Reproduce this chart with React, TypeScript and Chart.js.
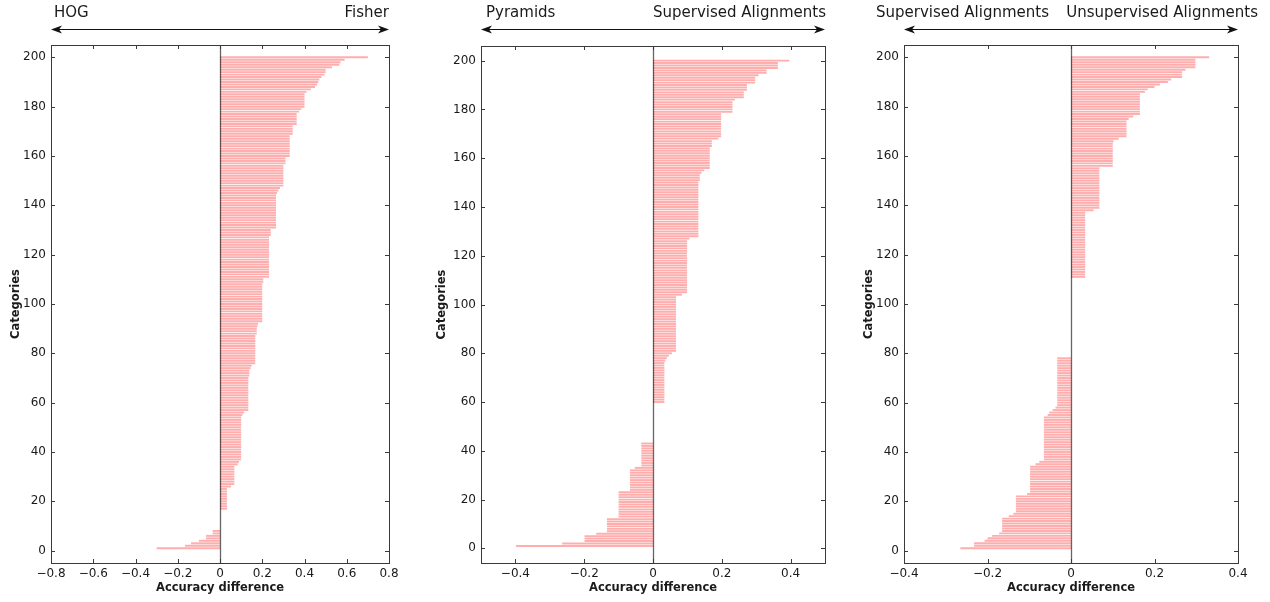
import React, { useEffect, useRef } from "react";
import { Chart, registerables } from "chart.js";

Chart.register(...registerables);

// category index (1..200), one bar per category
const categories: number[] = Array.from({ length: 200 }, (_, i) => i + 1);

const yTicks = [0, 20, 40, 60, 80, 100, 120, 140, 160, 180, 200];
const xTicksHog = [-0.8, -0.6, -0.4, -0.2, 0, 0.2, 0.4, 0.6, 0.8];
const xTicksPyr = [-0.4, -0.2, 0, 0.2, 0.4];
const xTicksSup = [-0.4, -0.2, 0, 0.2, 0.4];

// HOG vs Fisher (sorted accuracy differences)
const hogFisher = [
  -0.30, -0.166, -0.137, -0.10, -0.066, -0.066, -0.035, -0.035, 0, 0,
  0, 0, 0, 0, 0, 0, 0.033, 0.033, 0.033, 0.033,
  0.033, 0.033, 0.033, 0.033, 0.033, 0.052, 0.068, 0.068, 0.068, 0.068,
  0.068, 0.068, 0.068, 0.068, 0.084, 0.09, 0.10, 0.10, 0.10, 0.10,
  0.10, 0.10, 0.10, 0.10, 0.10, 0.10, 0.10, 0.10, 0.10, 0.10,
  0.10, 0.10, 0.10, 0.10, 0.106, 0.114, 0.134, 0.134, 0.134, 0.134,
  0.134, 0.134, 0.134, 0.134, 0.134, 0.134, 0.134, 0.134, 0.134, 0.134,
  0.139, 0.139, 0.139, 0.145, 0.15, 0.167, 0.167, 0.167, 0.167, 0.167,
  0.167, 0.167, 0.167, 0.167, 0.167, 0.167, 0.167, 0.174, 0.174, 0.174,
  0.177, 0.18, 0.20, 0.20, 0.20, 0.20, 0.20, 0.20, 0.20, 0.20,
  0.20, 0.20, 0.20, 0.20, 0.20, 0.20, 0.20, 0.20, 0.205, 0.205,
  0.232, 0.232, 0.232, 0.232, 0.232, 0.232, 0.232, 0.232, 0.232, 0.232,
  0.232, 0.232, 0.232, 0.232, 0.232, 0.232, 0.232, 0.24, 0.24, 0.24,
  0.265, 0.265, 0.265, 0.265, 0.265, 0.265, 0.265, 0.265, 0.265, 0.265,
  0.265, 0.265, 0.265, 0.265, 0.27, 0.276, 0.284, 0.30, 0.30, 0.30,
  0.30, 0.30, 0.30, 0.30, 0.30, 0.30, 0.31, 0.31, 0.31, 0.33,
  0.33, 0.33, 0.33, 0.33, 0.33, 0.33, 0.33, 0.33, 0.344, 0.344,
  0.344, 0.344, 0.363, 0.363, 0.363, 0.363, 0.363, 0.375, 0.385, 0.40,
  0.40, 0.40, 0.40, 0.40, 0.40, 0.41, 0.43, 0.45, 0.46, 0.465,
  0.47, 0.48, 0.495, 0.50, 0.50, 0.53, 0.565, 0.57, 0.59, 0.70,
];

// Pyramids vs Supervised Alignments
const pyrSup = [
  -0.398, -0.264, -0.199, -0.199, -0.199, -0.165, -0.134, -0.134, -0.134, -0.134,
  -0.134, -0.134, -0.10, -0.10, -0.10, -0.10, -0.10, -0.10, -0.10, -0.10,
  -0.10, -0.10, -0.10, -0.067, -0.067, -0.067, -0.067, -0.067, -0.067, -0.067,
  -0.067, -0.067, -0.053, -0.034, -0.034, -0.034, -0.034, -0.034, -0.034, -0.034,
  -0.034, -0.034, -0.034, 0, 0, 0, 0, 0, 0, 0,
  0, 0, 0, 0, 0, 0, 0, 0, 0, 0.033,
  0.033, 0.033, 0.033, 0.033, 0.033, 0.033, 0.033, 0.033, 0.033, 0.033,
  0.033, 0.033, 0.033, 0.033, 0.033, 0.033, 0.036, 0.04, 0.046, 0.055,
  0.067, 0.067, 0.067, 0.067, 0.067, 0.067, 0.067, 0.067, 0.067, 0.067,
  0.067, 0.067, 0.067, 0.067, 0.067, 0.067, 0.067, 0.067, 0.067, 0.067,
  0.067, 0.067, 0.067, 0.084, 0.099, 0.099, 0.099, 0.099, 0.099, 0.099,
  0.099, 0.099, 0.099, 0.099, 0.099, 0.099, 0.099, 0.099, 0.099, 0.099,
  0.099, 0.099, 0.099, 0.099, 0.099, 0.099, 0.106, 0.132, 0.132, 0.132,
  0.132, 0.132, 0.132, 0.132, 0.132, 0.132, 0.132, 0.132, 0.132, 0.132,
  0.132, 0.132, 0.132, 0.132, 0.132, 0.132, 0.132, 0.132, 0.132, 0.132,
  0.136, 0.136, 0.136, 0.141, 0.149, 0.165, 0.165, 0.165, 0.165, 0.165,
  0.165, 0.165, 0.165, 0.165, 0.171, 0.171, 0.171, 0.19, 0.198, 0.198,
  0.198, 0.198, 0.198, 0.198, 0.198, 0.198, 0.198, 0.198, 0.231, 0.231,
  0.231, 0.231, 0.231, 0.238, 0.264, 0.264, 0.264, 0.273, 0.273, 0.273,
  0.297, 0.297, 0.297, 0.307, 0.33, 0.33, 0.363, 0.363, 0.363, 0.396,
];

// Supervised vs Unsupervised Alignments
const supUnsup = [
  -0.265, -0.232, -0.232, -0.207, -0.20, -0.189, -0.172, -0.165, -0.165, -0.165,
  -0.165, -0.165, -0.165, -0.149, -0.138, -0.132, -0.132, -0.132, -0.132, -0.132,
  -0.132, -0.132, -0.105, -0.098, -0.098, -0.098, -0.098, -0.098, -0.098, -0.098,
  -0.098, -0.098, -0.098, -0.098, -0.085, -0.076, -0.065, -0.065, -0.065, -0.065,
  -0.065, -0.065, -0.065, -0.065, -0.065, -0.065, -0.065, -0.065, -0.065, -0.065,
  -0.065, -0.065, -0.065, -0.065, -0.056, -0.052, -0.044, -0.037, -0.033, -0.033,
  -0.033, -0.033, -0.033, -0.033, -0.033, -0.033, -0.033, -0.033, -0.033, -0.033,
  -0.033, -0.033, -0.033, -0.033, -0.033, -0.033, -0.033, -0.033, 0, 0,
  0, 0, 0, 0, 0, 0, 0, 0, 0, 0,
  0, 0, 0, 0, 0, 0, 0, 0, 0, 0,
  0, 0, 0, 0, 0, 0, 0, 0, 0, 0,
  0.034, 0.034, 0.034, 0.034, 0.034, 0.034, 0.034, 0.034, 0.034, 0.034,
  0.034, 0.034, 0.034, 0.034, 0.034, 0.034, 0.034, 0.034, 0.034, 0.034,
  0.034, 0.034, 0.034, 0.034, 0.034, 0.034, 0.034, 0.054, 0.068, 0.068,
  0.068, 0.068, 0.068, 0.068, 0.068, 0.068, 0.068, 0.068, 0.068, 0.068,
  0.068, 0.068, 0.068, 0.068, 0.068, 0.10, 0.10, 0.10, 0.10, 0.10,
  0.10, 0.10, 0.10, 0.10, 0.10, 0.102, 0.114, 0.133, 0.133, 0.133,
  0.133, 0.133, 0.133, 0.133, 0.138, 0.149, 0.165, 0.165, 0.165, 0.165,
  0.165, 0.165, 0.165, 0.165, 0.165, 0.177, 0.184, 0.20, 0.213, 0.232,
  0.24, 0.266, 0.266, 0.266, 0.274, 0.298, 0.298, 0.298, 0.298, 0.331,
];

const FONT = "'DejaVu Sans', 'Liberation Sans', sans-serif";
const TEXT = "#1a1a1a";
const FRAME = "#3a3a3a";
const H = 602;

type PanelCfg = {
  left: number;
  width: number;
  axisW: number;
  padRight: number;
  padTop: number;
  xMin: number;
  xMax: number;
  yMin: number;
  yMax: number;
  xTicks: number[];
  values: number[];
  leftLabel: string;
  rightLabel: string;
  leftLabelDx: number;
  rightLabelDx: number;
  catTitleDx: number;
};

const panels: PanelCfg[] = [
  {
    left: 0, width: 425, axisW: 51, padRight: 36, padTop: 45,
    xMin: -0.8, xMax: 0.8, yMin: -5, yMax: 205, xTicks: xTicksHog, values: hogFisher,
    leftLabel: "HOG", rightLabel: "Fisher", leftLabelDx: 3, rightLabelDx: 0, catTitleDx: -35,
  },
  {
    left: 425, width: 425, axisW: 56, padRight: 25, padTop: 46,
    xMin: -0.5, xMax: 0.5, yMin: -6, yMax: 206, xTicks: xTicksPyr, values: pyrSup,
    leftLabel: "Pyramids", rightLabel: "Supervised Alignments", leftLabelDx: 5, rightLabelDx: 1, catTitleDx: -39,
  },
  {
    left: 850, width: 420, axisW: 54, padRight: 32, padTop: 45,
    xMin: -0.4, xMax: 0.4, yMin: -5, yMax: 205, xTicks: xTicksSup, values: supUnsup,
    leftLabel: "Supervised Alignments", rightLabel: "Unsupervised Alignments", leftLabelDx: -28, rightLabelDx: 20, catTitleDx: -35,
  },
];

const fmtX = (v: number) => {
  if (Math.abs(v) < 1e-9) return "0";
  return (v < 0 ? "\u2212" : "") + Math.abs(v).toFixed(1);
};

function drawArrowHead(ctx: CanvasRenderingContext2D, x: number, y: number, dir: number) {
  ctx.beginPath();
  ctx.moveTo(x, y);
  ctx.lineTo(x - dir * 11, y - 4);
  ctx.lineTo(x - dir * 8, y);
  ctx.lineTo(x - dir * 11, y + 4);
  ctx.closePath();
  ctx.fill();
}

function Panel({ cfg }: { cfg: PanelCfg }) {
  const ref = useRef<HTMLCanvasElement | null>(null);

  useEffect(() => {
    const canvas = ref.current;
    if (!canvas) return;

    const decor = {
      id: "decor",
      afterDatasetsDraw(chart: any) {
        const { ctx, chartArea } = chart;
        const xs = chart.scales.x;
        const ys = chart.scales.y;
        const { left, right, top, bottom } = chartArea;
        ctx.save();
        // zero line
        const x0 = Math.round(xs.getPixelForValue(0)) + 0.5;
        ctx.strokeStyle = "rgba(0,0,0,0.6)";
        ctx.lineWidth = 1.3;
        ctx.beginPath();
        ctx.moveTo(x0, top);
        ctx.lineTo(x0, bottom);
        ctx.stroke();
        // frame
        ctx.strokeStyle = FRAME;
        ctx.lineWidth = 1;
        ctx.strokeRect(Math.round(left) + 0.5, Math.round(top) + 0.5, Math.round(right - left), Math.round(bottom - top));
        // inward ticks
        const tl = 4;
        ctx.beginPath();
        cfg.xTicks.forEach((v) => {
          const px = Math.round(xs.getPixelForValue(v)) + 0.5;
          ctx.moveTo(px, bottom);
          ctx.lineTo(px, bottom - tl);
          ctx.moveTo(px, top);
          ctx.lineTo(px, top + tl);
        });
        yTicks.forEach((v) => {
          const py = Math.round(ys.getPixelForValue(v)) + 0.5;
          ctx.moveTo(left, py);
          ctx.lineTo(left + tl, py);
          ctx.moveTo(right, py);
          ctx.lineTo(right - tl, py);
        });
        ctx.stroke();
        ctx.restore();
      },
      afterDraw(chart: any) {
        const { ctx, chartArea } = chart;
        const { left, right, top, bottom } = chartArea;
        ctx.save();
        ctx.fillStyle = TEXT;
        // axis titles
        ctx.font = `bold 11.5px ${FONT}`;
        ctx.textAlign = "center";
        ctx.textBaseline = "middle";
        ctx.fillText("Accuracy difference", (left + right) / 2, 588);
        ctx.save();
        ctx.translate(left + cfg.catTitleDx, (top + bottom) / 2);
        ctx.rotate(-Math.PI / 2);
        ctx.fillText("Categories", 0, 0);
        ctx.restore();
        // top labels
        ctx.font = `15px ${FONT}`;
        ctx.textBaseline = "alphabetic";
        ctx.textAlign = "left";
        ctx.fillText(cfg.leftLabel, left + cfg.leftLabelDx, 17);
        ctx.textAlign = "right";
        ctx.fillText(cfg.rightLabel, right + cfg.rightLabelDx, 17);
        // double arrow
        const ay = 29.5;
        ctx.strokeStyle = "#111";
        ctx.fillStyle = "#111";
        ctx.lineWidth = 1;
        ctx.beginPath();
        ctx.moveTo(left + 4, ay);
        ctx.lineTo(right - 4, ay);
        ctx.stroke();
        drawArrowHead(ctx, left, ay, -1);
        drawArrowHead(ctx, right, ay, 1);
        ctx.restore();
      },
    };

    const chart = new Chart(canvas, {
      type: "bar",
      data: {
        datasets: [
          {
            data: categories.map((c, i) => ({ x: cfg.values[i], y: c })),
            backgroundColor: "rgba(255,50,50,0.4)",
            borderWidth: 0,
            barPercentage: 0.78,
            categoryPercentage: 1,
          },
        ],
      },
      options: {
        indexAxis: "y",
        responsive: false,
        animation: false,
        events: [],
        layout: { padding: { top: cfg.padTop, right: cfg.padRight, left: 0, bottom: 0 } },
        plugins: { legend: { display: false }, tooltip: { enabled: false }, title: { display: false } },
        scales: {
          x: {
            type: "linear",
            min: cfg.xMin,
            max: cfg.xMax,
            offset: false,
            grid: { display: false, drawTicks: false },
            border: { display: false },
            afterBuildTicks: (s: any) => {
              s.ticks = cfg.xTicks.map((v) => ({ value: v }));
            },
            afterFit: (s: any) => {
              s.height = 39;
            },
            ticks: {
              autoSkip: false,
              maxRotation: 0,
              padding: 4,
              color: TEXT,
              font: { family: FONT, size: 12 },
              callback: (v: any) => fmtX(Number(v)),
            },
          },
          y: {
            type: "linear",
            min: cfg.yMin,
            max: cfg.yMax,
            offset: false,
            grid: { display: false, drawTicks: false, offset: false },
            border: { display: false },
            afterBuildTicks: (s: any) => {
              s.ticks = yTicks.map((v) => ({ value: v }));
            },
            afterFit: (s: any) => {
              s.width = cfg.axisW;
            },
            ticks: {
              autoSkip: false,
              padding: 5,
              color: TEXT,
              font: { family: FONT, size: 12 },
              callback: (v: any) => String(v),
            },
          },
        },
      },
      plugins: [decor],
    } as any);

    return () => chart.destroy();
  }, [cfg]);

  return (
    <canvas
      ref={ref}
      width={cfg.width}
      height={H}
      style={{ position: "absolute", left: cfg.left, top: 0, width: cfg.width, height: H }}
    />
  );
}

export default function App() {
  return (
    <div style={{ position: "absolute", left: 0, top: 0, width: 1270, height: H, background: "#fff", overflow: "hidden" }}>
      {panels.map((p, i) => (
        <Panel key={i} cfg={p} />
      ))}
    </div>
  );
}
